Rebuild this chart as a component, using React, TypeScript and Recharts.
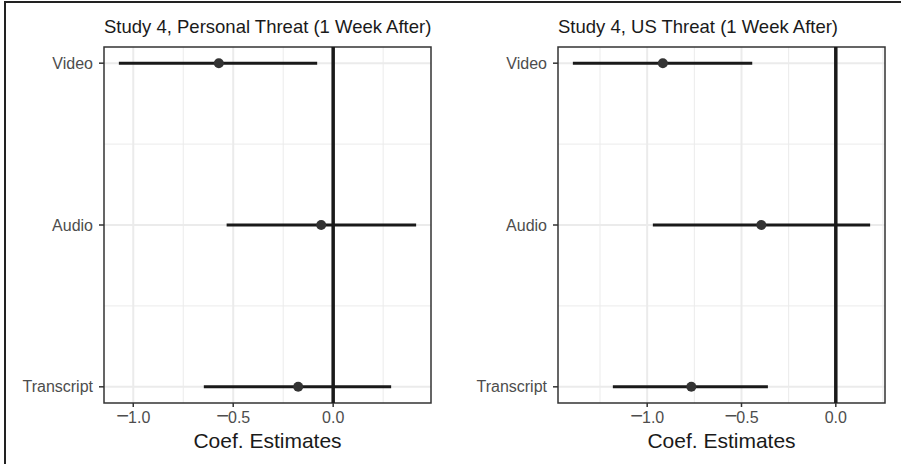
import React from 'react'
import { ScatterChart, Scatter, XAxis, YAxis, CartesianGrid, ErrorBar, ReferenceLine, ReferenceArea } from 'recharts'

// y positions 1..3, bottom to top
const categories = ['Transcript', 'Audio', 'Video']

const personalEst = [-0.175, -0.06, -0.572]
const personalLow = [-0.647, -0.533, -1.072]
const personalHigh = [0.29, 0.415, -0.08]

const usEst = [-0.766, -0.395, -0.917]
const usLow = [-1.182, -0.97, -1.394]
const usHigh = [-0.36, 0.182, -0.443]

const xTicks = [-1.0, -0.5, 0.0]
const xMinor = [-1.25, -0.75, -0.25, 0.25]
const yTicks = [1, 2, 3]
const yMinor = [1.5, 2.5]

const titles = ['Study 4, Personal Threat (1 Week After)', 'Study 4, US Threat (1 Week After)']
const xLabel = 'Coef. Estimates'

const FONT = '"Liberation Sans", Arial, sans-serif'
const H = 464
const TOP = 47
const XAXIS_H = 61

// ggplot prints a wide minus sign, so draw it a bit bigger than the digits
function XTick(props: any) {
  const { x, y, payload } = props
  const v: number = payload.value
  const neg = v < 0
  return (
    <text x={x} y={y} dy="0.71em" textAnchor="middle" fill="#4d4d4d" fontSize={16} fontFamily={FONT}>
      {neg && <tspan fontSize={22}>{'\u2212'}</tspan>}
      <tspan dx={neg ? -1 : 0}>{Math.abs(v).toFixed(1)}</tspan>
    </text>
  )
}

interface PanelProps {
  est: number[]
  low: number[]
  high: number[]
  title: string
  left: number
  width: number
  yAxisWidth: number
  marginRight: number
}

function Panel({ est, low, high, title, left, width, yAxisWidth, marginRight }: PanelProps) {
  const data = est.map((e, i) => ({ y: i + 1, x: e, err: [e - low[i], high[i] - e] }))
  const lo = Math.min(...low)
  const hi = Math.max(...high)
  const pad = (hi - lo) * 0.05
  const domain: [number, number] = [lo - pad, hi + pad]
  const minor = xMinor.filter(v => v > domain[0] && v < domain[1])
  const plotW = width - yAxisWidth - marginRight

  return (
    <div style={{ position: 'absolute', left, top: 0, width, height: H }}>
      <ScatterChart width={width} height={H} margin={{ top: TOP, right: marginRight, left: 0, bottom: 0 }}>
        <CartesianGrid horizontalValues={yMinor} verticalValues={minor} stroke="#ebebeb" strokeWidth={1} />
        <CartesianGrid horizontalValues={yTicks} verticalValues={xTicks} stroke="#ebebeb" strokeWidth={2} />
        <XAxis
          type="number"
          dataKey="x"
          domain={domain}
          ticks={xTicks}
          allowDataOverflow
          height={XAXIS_H}
          axisLine={false}
          tickSize={4}
          tickMargin={5}
          tickLine={{ stroke: '#333', strokeWidth: 1.5 }}
          tick={<XTick />}
        />
        <YAxis
          type="number"
          dataKey="y"
          domain={[0.9, 3.1]}
          ticks={yTicks}
          allowDataOverflow
          width={yAxisWidth}
          axisLine={false}
          tickSize={5}
          tickMargin={6}
          tickLine={{ stroke: '#333', strokeWidth: 1.5 }}
          tick={{ fill: '#4d4d4d', fontSize: 16, fontFamily: FONT }}
          tickFormatter={(v: number) => categories[v - 1]}
        />
        <Scatter
          data={data}
          isAnimationActive={false}
          shape={(p: any) => <circle cx={p.cx} cy={p.cy} r={5} fill="#333" />}
        >
          <ErrorBar dataKey="err" direction="x" width={0} stroke="#1a1a1a" strokeWidth={3} isAnimationActive={false} />
        </Scatter>
        <ReferenceLine x={0} stroke="#1a1a1a" strokeWidth={3.5} />
        <ReferenceArea x1={domain[0]} x2={domain[1]} y1={0.9} y2={3.1} fill="none" stroke="#333" strokeWidth={1.5} />
      </ScatterChart>
      <svg width={width} height={H} style={{ position: 'absolute', left: 0, top: 0, pointerEvents: 'none' }}>
        <text x={yAxisWidth} y={33} fontSize={18.5} fontFamily={FONT} fill="#1a1a1a">{title}</text>
        <text x={yAxisWidth + plotW / 2} y={448} fontSize={21} fontFamily={FONT} fill="#1a1a1a" textAnchor="middle">{xLabel}</text>
      </svg>
    </div>
  )
}

export default function App() {
  return (
    <div style={{ position: 'absolute', left: 0, top: 0, width: 901, height: H, background: '#fff', overflow: 'hidden' }}>
      <Panel est={personalEst} low={personalLow} high={personalHigh} title={titles[0]} left={0} width={450} yAxisWidth={104} marginRight={19} />
      <Panel est={usEst} low={usLow} high={usHigh} title={titles[1]} left={450} width={451} yAxisWidth={108} marginRight={16} />
      <div style={{ position: 'absolute', left: 4, top: 1, width: 897, height: 2, background: '#222' }} />
      <div style={{ position: 'absolute', left: 4, top: 1, width: 2, height: H, background: '#222' }} />
    </div>
  )
}
